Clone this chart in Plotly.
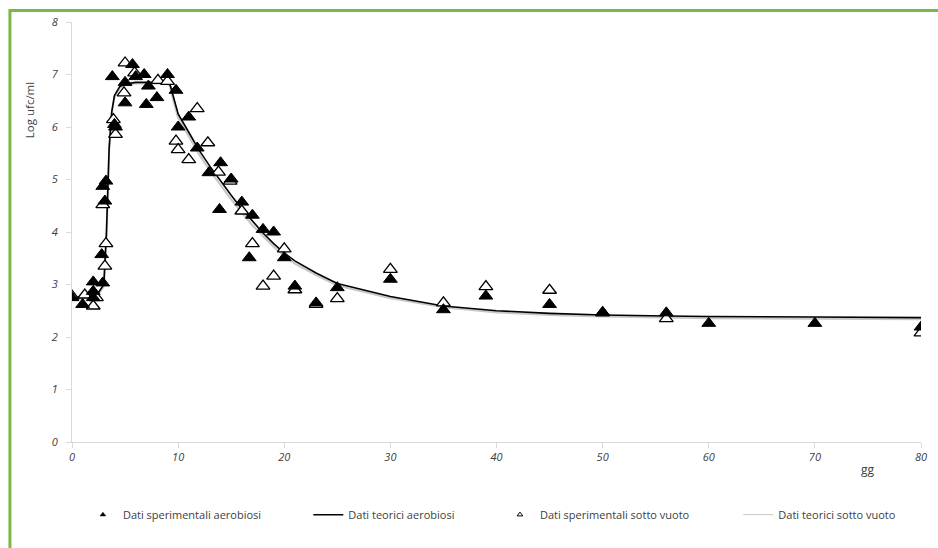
import plotly.graph_objects as go

# ---------------- data ----------------
aer_x = [0, 1, 2, 2, 2, 2.9, 2.8, 2.9, 3.2, 3.1, 4.0, 4.1, 3.8, 5.0, 5.0, 5.7, 6.0, 6.8, 7.0, 7.2, 8.0, 9.0,
         9.8, 10.0, 11.0, 11.8, 12.9, 13.9, 14.0, 15.0, 16.0, 16.7, 17.0, 18.0, 19.0, 20.0, 21.0, 23.0, 25.0,
         30.0, 35.0, 39.0, 45.0, 50.0, 56.0, 60.0, 70.0, 80.0]
aer_y = [2.75, 2.62, 2.87, 3.05, 2.75, 3.03, 3.57, 4.87, 4.97, 4.59, 6.05, 6.0, 6.96, 6.46, 6.85, 7.19, 6.96, 7.0,
         6.43, 6.78, 6.56, 7.0, 6.7, 6.0, 6.19, 5.6, 5.13, 4.43, 5.32, 5.01, 4.57, 3.51, 4.32, 4.05, 4.0, 3.51,
         2.97, 2.65, 2.94, 3.1, 2.52, 2.78, 2.62, 2.47, 2.46, 2.26, 2.26, 2.19]

vuo_x = [0, 1.2, 2.0, 2.3, 3.1, 3.2, 2.9, 3.9, 4.1, 5.0, 4.9, 5.9, 8.1, 9.0, 9.8, 10.0, 11.0, 11.8, 12.8,
         13.8, 14.9, 16.0, 17.0, 18.0, 19.0, 20.0, 21.0, 23.0, 25.0, 30.0, 35.0, 39.0, 45.0, 50.0, 56.0, 80.0]
vuo_y = [2.78, 2.8, 2.59, 2.75, 3.35, 3.78, 4.52, 6.14, 5.86, 7.22, 6.65, 7.03, 6.89, 6.87, 5.73, 5.57, 5.38,
         6.35, 5.7, 5.14, 4.97, 4.4, 3.78, 2.97, 3.16, 3.68, 2.9, 2.62, 2.73, 3.29, 2.65, 2.96, 2.89, 2.46,
         2.35, 2.08]

fit_x = [0, 1, 2, 2.5, 3, 3.25, 3.5, 3.75, 4, 4.5, 5, 6, 7, 8, 9, 9.25, 9.5, 10, 11, 12, 13, 14, 15, 16,
         17, 18, 19, 20, 21, 23, 25, 30, 35, 40, 45, 50, 56, 60, 70, 80]
fit_aer_y = [2.75, 2.76, 2.78, 2.85, 3.0, 4.0, 5.6, 6.3, 6.6, 6.77, 6.82, 6.85, 6.85, 6.85, 6.85, 6.8, 6.6,
             6.25, 5.9, 5.55, 5.25, 4.97, 4.7, 4.44, 4.2, 3.98, 3.78, 3.6, 3.45, 3.22, 3.02, 2.77, 2.59, 2.5,
             2.45, 2.42, 2.40, 2.39, 2.38, 2.37]
fit_vuo_y = [2.72, 2.73, 2.75, 2.82, 2.97, 3.95, 5.55, 6.27, 6.57, 6.75, 6.8, 6.83, 6.83, 6.83, 6.83, 6.77,
             6.55, 6.18, 5.82, 5.47, 5.17, 4.89, 4.62, 4.37, 4.13, 3.92, 3.72, 3.55, 3.4, 3.18, 2.98, 2.74,
             2.57, 2.47, 2.42, 2.39, 2.37, 2.36, 2.35, 2.34]

x_ticks = [0, 10, 20, 30, 40, 50, 60, 70, 80]
y_ticks = [0, 1, 2, 3, 4, 5, 6, 7, 8]

series_names = ["Dati sperimentali aerobiosi", "Dati teorici aerobiosi",
                "Dati sperimentali sotto vuoto", "Dati teorici sotto vuoto"]

FONT = "Open Sans"
TXT = "#404040"
GRN = "#78b843"

fig = go.Figure()

# plotted series (legend entries drawn by small dummy traces below)
fig.add_trace(go.Scatter(x=fit_x, y=fit_vuo_y, mode="lines", name=series_names[3], showlegend=False,
                         line=dict(color="#c8c8c8", width=2.2)))
fig.add_trace(go.Scatter(x=fit_x, y=fit_aer_y, mode="lines", name=series_names[1], showlegend=False,
                         line=dict(color="black", width=1.6)))
fig.add_trace(go.Scatter(x=vuo_x, y=vuo_y, mode="markers", name=series_names[2], showlegend=False,
                         marker=dict(symbol="triangle-up", size=12, color="white",
                                     line=dict(color="black", width=1.3))))
fig.add_trace(go.Scatter(x=aer_x, y=aer_y, mode="markers", name=series_names[0], showlegend=False,
                         marker=dict(symbol="triangle-up", size=12, color="black",
                                     line=dict(color="black", width=1))))

# legend-only entries
fig.add_trace(go.Scatter(x=[None], y=[None], mode="markers", name=series_names[0], legend="legend",
                         marker=dict(symbol="triangle-up", size=5, color="black",
                                     line=dict(color="black", width=0.5))))
fig.add_trace(go.Scatter(x=[None], y=[None], mode="lines", name=series_names[1], legend="legend2",
                         line=dict(color="black", width=1.5)))
fig.add_trace(go.Scatter(x=[None], y=[None], mode="markers", name=series_names[2], legend="legend3",
                         marker=dict(symbol="triangle-up", size=5, color="white",
                                     line=dict(color="black", width=1))))
fig.add_trace(go.Scatter(x=[None], y=[None], mode="lines", name=series_names[3], legend="legend4",
                         line=dict(color="#c8c8c8", width=1)))

axis_common = dict(showgrid=False, zeroline=False, showline=True, linecolor="#d9d9d9", linewidth=1,
                   ticks="outside", ticklen=5, tickcolor="#d9d9d9",
                   tickfont=dict(family=FONT, size=11, color=TXT, style="italic"))

leg_common = dict(orientation="h", yanchor="middle", y=-0.173, xanchor="left", bgcolor="rgba(0,0,0,0)",
                  font=dict(family=FONT, size=11, color=TXT), itemwidth=30, itemsizing="trace")

P0, PW = 72.0, 855.0


def px2paper(px):
    return (px - P0) / PW


fig.update_layout(
    width=938, height=548,
    margin=dict(l=72, r=11, t=22, b=105.5),
    paper_bgcolor="white", plot_bgcolor="white",
    showlegend=True,
    xaxis=dict(range=[0, 80], tickvals=x_ticks, **axis_common),
    yaxis=dict(range=[0, 8], tickvals=y_ticks, ticklabelstandoff=6, **axis_common),
    legend=dict(x=px2paper(83), **leg_common),
    legend2=dict(x=px2paper(310), **leg_common),
    legend3=dict(x=px2paper(503), **leg_common),
    legend4=dict(x=px2paper(743), **leg_common),
    shapes=[dict(type="rect", xref="paper", yref="paper",
                 x0=px2paper(9.5), x1=px2paper(960), y0=(442.5 - 10.5) / 420.5, y1=(442.5 - 600) / 420.5,
                 line=dict(color=GRN, width=3), fillcolor="rgba(0,0,0,0)", layer="above")],
    annotations=[
        dict(text="Log ufc/ml", xref="paper", yref="paper", x=px2paper(30), y=(442.5 - 110) / 420.5,
             xanchor="center", yanchor="middle",
             showarrow=False, textangle=-90, font=dict(family=FONT, size=11.5, color=TXT)),
        dict(text="gg", xref="paper", yref="paper", x=px2paper(874), y=(442.5 - 470) / 420.5,
             xanchor="center", yanchor="middle",
             showarrow=False, font=dict(family=FONT, size=12, color=TXT)),
    ],
)

fig.write_html("out.html")
